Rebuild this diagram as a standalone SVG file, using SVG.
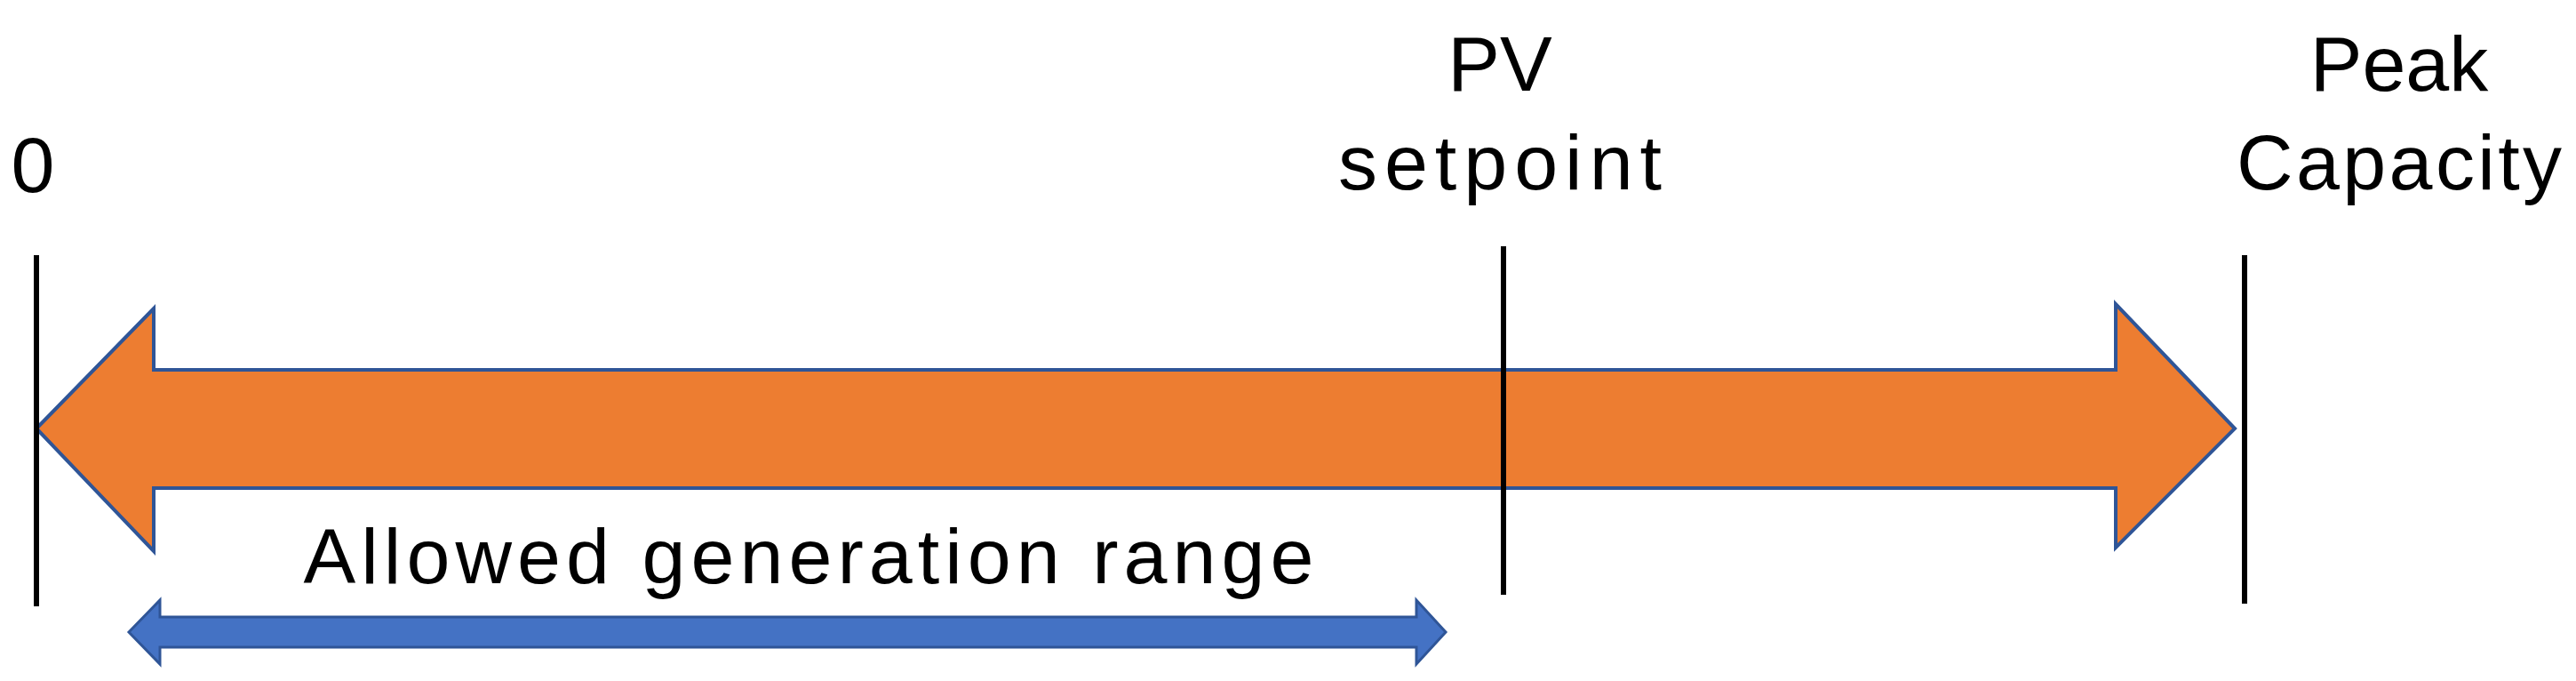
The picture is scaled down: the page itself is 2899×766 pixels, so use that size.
<svg xmlns="http://www.w3.org/2000/svg" width="2899" height="766" viewBox="0 0 2899 766">
<style>
text{font-family:"Liberation Sans",Arial,sans-serif;font-size:88px;fill:#000}
.tick{stroke:#000;stroke-width:6}
</style>
<rect width="2899" height="766" fill="#fff"/>
<g id="orange-arrow"><polygon points="41,482 173,347 173,416 2381,416 2381,342 2515,482 2381,616 2381,549 173,549 173,620" fill="#ED7D31" stroke="#2F5597" stroke-width="4"/></g>
<g id="blue-arrow"><polygon points="145,711 180,675 180,694 1594,694 1594,675 1627,711 1594,747 1594,728 180,728 180,747" fill="#4472C4" stroke="#2F5597" stroke-width="3"/></g>
<g id="connectors">
<line class="tick" x1="41" y1="287" x2="41" y2="682"/>
<line class="tick" x1="1692" y1="277" x2="1692" y2="669"/>
<line class="tick" x1="2526" y1="287" x2="2526" y2="679"/>
</g>
<g id="label-0"><text x="37" y="216" text-anchor="middle">0</text></g>
<g id="label-pv"><text x="1688" y="102" text-anchor="middle">PV</text><text x="1688" y="213" text-anchor="middle" textLength="364">setpoint</text></g>
<g id="label-peak"><text x="2700" y="102" text-anchor="middle">Peak</text><text x="2700" y="213" text-anchor="middle" textLength="366">Capacity</text></g>
<g id="label-range"><text x="910" y="656" text-anchor="middle" textLength="1137">Allowed generation range</text></g>
</svg>
